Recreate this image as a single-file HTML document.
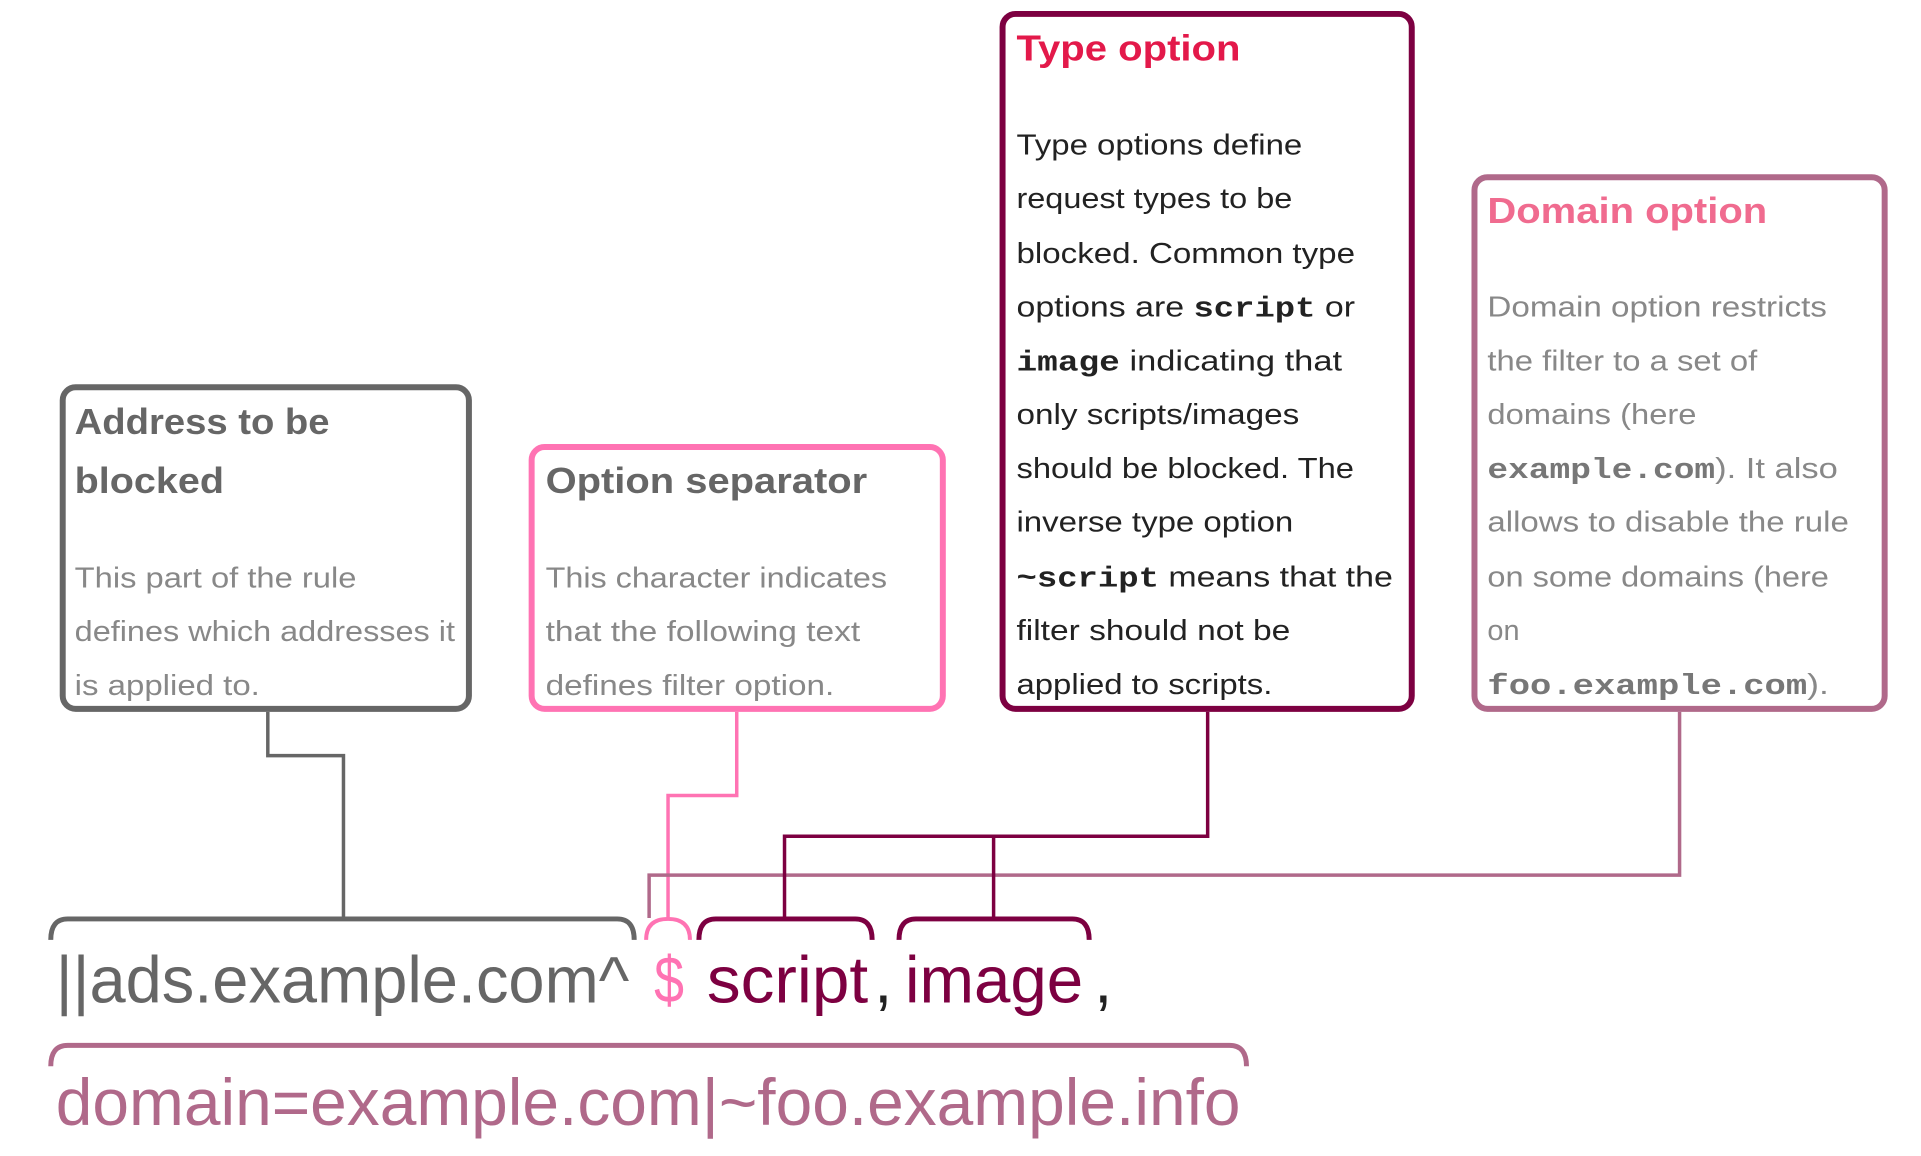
<!DOCTYPE html>
<html><head><meta charset="utf-8"><style>html,body{margin:0;padding:0;background:#fff}svg{display:block}</style></head>
<body>
<svg width="1921" height="1156" viewBox="0 0 1921 1156" xmlns="http://www.w3.org/2000/svg" font-family="Liberation Sans, sans-serif">
<g transform="translate(-2,-1) scale(0.9956)">
<g fill="none" stroke-linejoin="miter">
<rect x="65" y="390" width="408" height="323" rx="13" stroke="#666" stroke-width="6"/>
<rect x="536" y="450" width="413" height="263" rx="13" stroke="#ff73b3" stroke-width="6"/>
<rect x="1009" y="15" width="411" height="698" rx="13" stroke="#7d0041" stroke-width="6"/>
<rect x="1483" y="179" width="412" height="534" rx="13" stroke="#b0698a" stroke-width="6"/>
<polyline points="271,716 271,760 347,760 347,923" stroke="#666" stroke-width="3.5"/>
<polyline points="742,716 742,800 673,800 673,923" stroke="#ff73b3" stroke-width="3.5"/>
<polyline points="1689,716 1689,880 654,880 654,923" stroke="#b0698a" stroke-width="3.5"/>
<polyline points="1215,716 1215,841 790,841 790,923" stroke="#7d0041" stroke-width="3.5"/>
<polyline points="1000,841 1000,923" stroke="#7d0041" stroke-width="3.5"/>
<path d="M53,945 Q53,924 70,924 L622,924 Q639,924 639,945" stroke="#666" stroke-width="5"/>
<path d="M651,945 Q651,924 673,924 Q695,924 695,945" stroke="#ff73b3" stroke-width="4"/>
<path d="M704,945 Q704,924 721,924 L861,924 Q878,924 878,945" stroke="#7d0041" stroke-width="5"/>
<path d="M905,945 Q905,924 922,924 L1079,924 Q1096,924 1096,945" stroke="#7d0041" stroke-width="5"/>
<path d="M53,1072 Q53,1051 70,1051 L1237,1051 Q1254,1051 1254,1072" stroke="#b0698a" stroke-width="5"/>
</g>
<g fill="#666" font-weight="bold" font-size="36">
<text x="77" y="437" textLength="256" lengthAdjust="spacingAndGlyphs">Address to be</text>
<text x="77" y="496" textLength="150" lengthAdjust="spacingAndGlyphs">blocked</text>
<text x="550" y="496" textLength="323" lengthAdjust="spacingAndGlyphs">Option separator</text>
</g>
<g fill="#888" font-size="29">
<text x="77" y="591" textLength="283" lengthAdjust="spacingAndGlyphs">This part of the rule</text>
<text x="77" y="645" textLength="382" lengthAdjust="spacingAndGlyphs">defines which addresses it</text>
<text x="77" y="699" textLength="186" lengthAdjust="spacingAndGlyphs">is applied to.</text>
<text x="550" y="591" textLength="343" lengthAdjust="spacingAndGlyphs">This character indicates</text>
<text x="550" y="645" textLength="316" lengthAdjust="spacingAndGlyphs">that the following text</text>
<text x="550" y="699" textLength="290" lengthAdjust="spacingAndGlyphs">defines filter option.</text>
</g>
<text x="1023" y="62" fill="#e3194a" font-weight="bold" font-size="36" textLength="225" lengthAdjust="spacingAndGlyphs">Type option</text>
<g fill="#222" font-size="29">
<text x="1023" y="156" textLength="287" lengthAdjust="spacingAndGlyphs">Type options define</text>
<text x="1023" y="210" textLength="277" lengthAdjust="spacingAndGlyphs">request types to be</text>
<text x="1023" y="265" textLength="340" lengthAdjust="spacingAndGlyphs">blocked. Common type</text>
<text x="1023" y="319" textLength="340" lengthAdjust="spacingAndGlyphs">options are <tspan font-family="Liberation Mono, monospace" font-weight="bold">script</tspan> or</text>
<text x="1023" y="373" textLength="327" lengthAdjust="spacingAndGlyphs"><tspan font-family="Liberation Mono, monospace" font-weight="bold">image</tspan> indicating that</text>
<text x="1023" y="427" textLength="284" lengthAdjust="spacingAndGlyphs">only scripts/images</text>
<text x="1023" y="481" textLength="339" lengthAdjust="spacingAndGlyphs">should be blocked. The</text>
<text x="1023" y="535" textLength="278" lengthAdjust="spacingAndGlyphs">inverse type option</text>
<text x="1023" y="590" textLength="378" lengthAdjust="spacingAndGlyphs"><tspan font-family="Liberation Mono, monospace" font-weight="bold">~script</tspan> means that the</text>
<text x="1023" y="644" textLength="275" lengthAdjust="spacingAndGlyphs">filter should not be</text>
<text x="1023" y="698" textLength="257" lengthAdjust="spacingAndGlyphs">applied to scripts.</text>
</g>
<text x="1496" y="225" fill="#f06b8f" font-weight="bold" font-size="36" textLength="281" lengthAdjust="spacingAndGlyphs">Domain option</text>
<g fill="#888" font-size="29">
<text x="1496" y="319" textLength="341" lengthAdjust="spacingAndGlyphs">Domain option restricts</text>
<text x="1496" y="373" textLength="271" lengthAdjust="spacingAndGlyphs">the filter to a set of</text>
<text x="1496" y="427" textLength="210" lengthAdjust="spacingAndGlyphs">domains (here</text>
<text x="1496" y="481" textLength="352" lengthAdjust="spacingAndGlyphs"><tspan font-family="Liberation Mono, monospace" font-weight="bold" fill="#777">example.com</tspan>). It also</text>
<text x="1496" y="535" textLength="363" lengthAdjust="spacingAndGlyphs">allows to disable the rule</text>
<text x="1496" y="590" textLength="343" lengthAdjust="spacingAndGlyphs">on some domains (here</text>
<text x="1496" y="644">on</text>
<text x="1496" y="698" textLength="343" lengthAdjust="spacingAndGlyphs"><tspan font-family="Liberation Mono, monospace" font-weight="bold" fill="#777">foo.example.com</tspan>).</text>
</g>
<g font-size="66">
<text x="58" y="1008" fill="#666" textLength="576" lengthAdjust="spacingAndGlyphs">||ads.example.com^</text>
<text x="659" y="1008" fill="#ff73b3" textLength="30" lengthAdjust="spacingAndGlyphs">$</text>
<text x="712" y="1008" fill="#7d0041" textLength="162" lengthAdjust="spacingAndGlyphs">script</text>
<text x="880" y="1008" fill="#222">,</text>
<text x="911" y="1008" fill="#7d0041" textLength="179" lengthAdjust="spacingAndGlyphs">image</text>
<text x="1101" y="1008" fill="#222">,</text>
<text x="58" y="1131" fill="#b0698a" textLength="1190" lengthAdjust="spacingAndGlyphs">domain=example.com|~foo.example.info</text>
</g>
</g>
</svg>
</body></html>
